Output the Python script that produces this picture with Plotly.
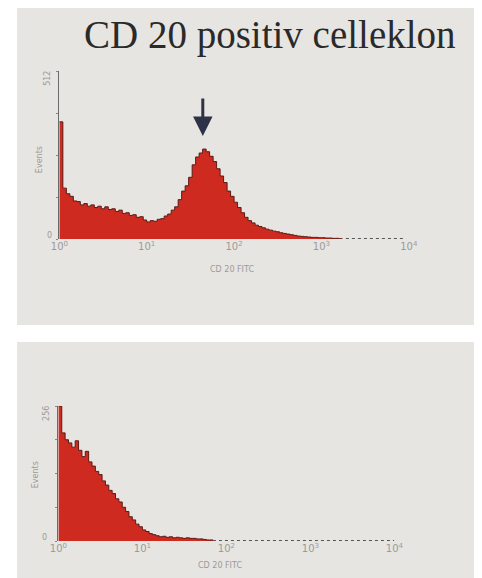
import plotly.graph_objects as go

W, H = 482, 578
OFF = 8  # page body margin: figure origin sits at page pixel (8, 8)

# ---- data (log10 channel position, counts) ----
top_log = [round(i * 0.04, 2) for i in range(0, 82)]
top_counts = [357, 155, 138, 130, 116, 114, 104, 108, 100, 104, 96, 100, 92, 98, 90, 92,
              84, 88, 78, 80, 72, 74, 66, 68, 58, 52, 56, 54, 60, 62, 70, 76,
              88, 98, 120, 146, 162, 188, 226, 250, 262, 274, 266, 252, 236, 214,
              192, 172, 146, 130, 112, 96, 80, 66, 56, 49, 42, 38, 34, 30, 27,
              24, 22, 19, 17, 15, 13, 11, 9, 8, 7, 6, 5, 5, 4, 4, 3, 3, 2, 2, 1, 1]
bot_log = [round(i * 0.04, 2) for i in range(0, 47)]
bot_counts = [256, 205, 192, 186, 178, 190, 172, 160, 170, 150, 142, 132, 126, 114,
              106, 96, 90, 80, 74, 64, 56, 46, 40, 32, 27, 21, 18, 14, 12, 10, 8,
              9, 7, 8, 6, 7, 6, 5, 6, 5, 5, 4, 4, 3, 2, 2, 1]
tick_vals = [1, 10, 100, 1000, 10000]
tick_text = ["10<sup>0</sup>", "10<sup>1</sup>", "10<sup>2</sup>", "10<sup>3</sup>", "10<sup>4</sup>"]
title_text = "CD 20 positiv celleklon"
x_title = "CD 20 FITC"
y_title = "Events"
top_max, bot_max = 512, 256

PANEL = "#e7e5e1"
FILL = "#cf2a1f"
EDGE = "#5a1a14"
GREY = "#9a9a9a"


def px(x):
    return (x - OFF) / W


def py(y):
    return (H - (y - OFF)) / H


fig = go.Figure()
fig.add_trace(go.Scatter(x=[10 ** v for v in top_log], y=top_counts, mode="lines",
                         line=dict(shape="hv", color=EDGE, width=1), fill="tozeroy",
                         fillcolor=FILL, xaxis="x", yaxis="y", hoverinfo="skip"))
fig.add_trace(go.Scatter(x=[10 ** v for v in bot_log], y=bot_counts, mode="lines",
                         line=dict(shape="hv", color=EDGE, width=1), fill="tozeroy",
                         fillcolor=FILL, xaxis="x2", yaxis="y2", hoverinfo="skip"))

axis_common = dict(type="log", range=[0, 4], tickvals=tick_vals, ticktext=tick_text,
                   showgrid=False, zeroline=False, showline=False, ticks="",
                   tickfont=dict(family="DejaVu Sans", size=10, color=GREY))
yaxis_common = dict(showgrid=False, zeroline=False, showticklabels=False,
                    showline=True, linecolor="#6a6a6a", linewidth=1,
                    ticks="outside", ticklen=2, tickcolor="#888")

fig.update_layout(
    width=W, height=H, margin=dict(l=0, r=0, t=0, b=0),
    paper_bgcolor="white", plot_bgcolor="rgba(0,0,0,0)", showlegend=False,
    xaxis=dict(domain=[px(52), px(415)], anchor="y", **axis_common),
    yaxis=dict(domain=[py(239), py(71)], range=[0, top_max], anchor="x",
               dtick=128, **yaxis_common),
    xaxis2=dict(domain=[px(51), px(400)], anchor="y2", **axis_common),
    yaxis2=dict(domain=[py(541), py(406)], range=[0, bot_max], anchor="x2",
                dtick=64, **yaxis_common),
)

fig.add_shape(type="rect", xref="paper", yref="paper", x0=0, x1=1,
              y0=py(325), y1=py(8), fillcolor=PANEL, line_width=0, layer="below")
fig.add_shape(type="rect", xref="paper", yref="paper", x0=0, x1=1,
              y0=0, y1=py(342), fillcolor=PANEL, line_width=0, layer="below")

# dotted near-zero tails
fig.add_shape(type="line", xref="x", yref="y", x0=10 ** 3.28, x1=10 ** 3.95, y0=1, y1=1,
              line=dict(color="#555", width=1.5, dash="dot"))
fig.add_shape(type="line", xref="x2", yref="y2", x0=10 ** 1.84, x1=10 ** 4, y0=0.5, y1=0.5,
              line=dict(color="#555", width=1.5, dash="dot"))

ann = []
ann.append(dict(x=px(271), y=py(35), xref="paper", yref="paper", text=title_text,
                showarrow=False, xanchor="center", yanchor="middle",
                font=dict(family="Liberation Serif", size=39, color="#2a2a2a")))


def small(x, y, t, angle=0):
    ann.append(dict(x=px(x), y=py(y), xref="paper", yref="paper", text=t, showarrow=False,
                    xanchor="center", yanchor="middle", textangle=angle,
                    font=dict(family="DejaVu Sans", size=8, color=GREY)))


small(40, 78, "512", -90)
small(31, 160, y_title, -90)
small(42, 235, "0")
small(231, 269, x_title)
small(38, 413, "256", -90)
small(27, 475, y_title, -90)
small(37, 537, "0")
small(219, 565, x_title)

ann.append(dict(x=px(201), y=py(136), xref="paper", yref="paper", ax=0, ay=-39,
                text="", showarrow=True, arrowhead=2, arrowsize=1.3, arrowwidth=3,
                arrowcolor="#2e3246"))
fig.update_layout(annotations=ann)

fig.write_html("out.html")
